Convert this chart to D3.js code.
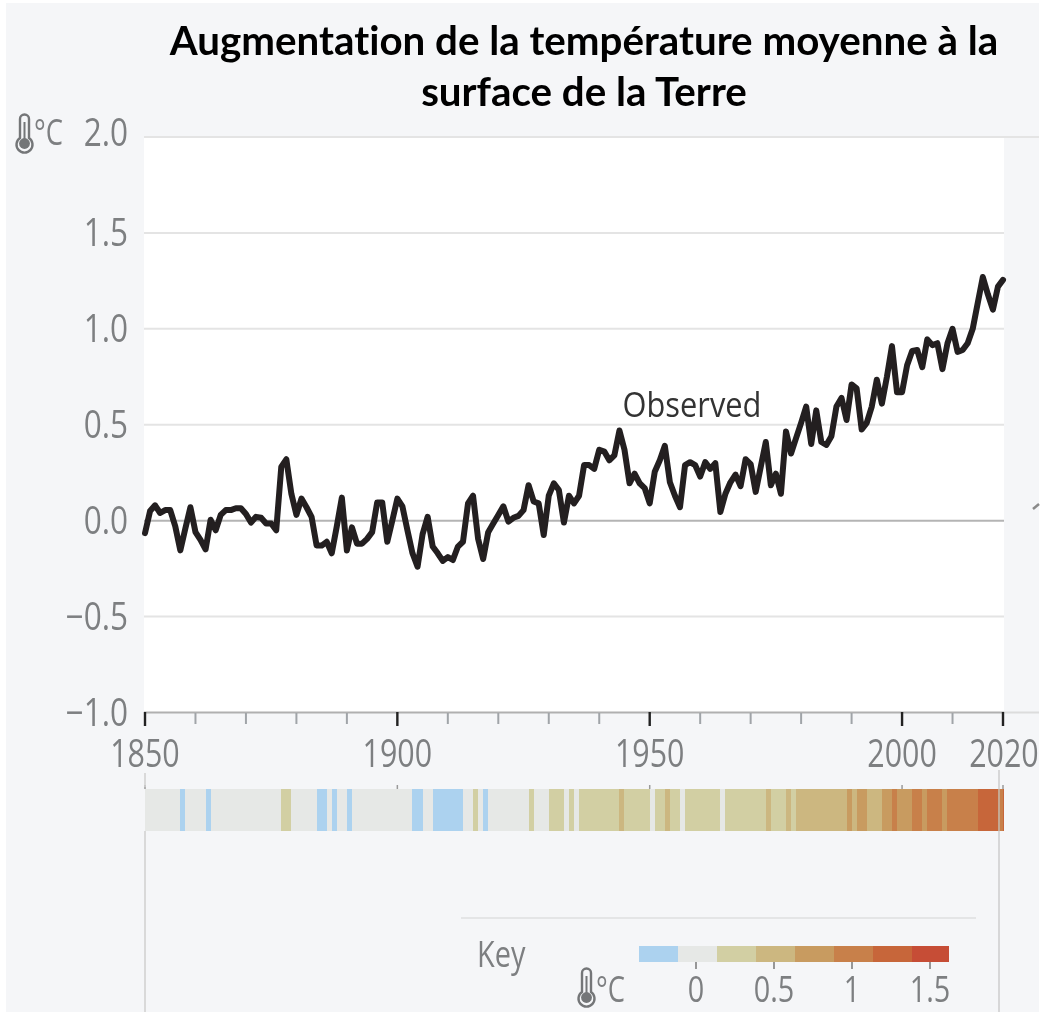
<!DOCTYPE html>
<html><head><meta charset="utf-8">
<script src="https://cdn.jsdelivr.net/npm/d3@7"></script>
<style>html,body{margin:0;padding:0;background:#fff}svg{display:block}
.lab{font-family:"Open Sans",sans-serif;font-weight:400;fill:#7d7f81}
.title{font-family:Lato,sans-serif;font-weight:700;fill:#000;font-size:40.3px;text-anchor:middle;font-variant-ligatures:none}</style>
</head><body><div id="c"></div>
<script>
const titleLines = ["Augmentation de la température moyenne à la","surface de la Terre"];
const startYear = 1850;
const anomalies = [
-0.065,0.05,0.08,0.04,0.055,0.055,-0.03,-0.155,-0.04,0.07,
-0.06,-0.10,-0.15,0.005,-0.05,0.03,0.055,0.055,0.065,0.065,
0.035,-0.01,0.02,0.015,-0.015,-0.015,-0.05,0.28,0.32,0.14,
0.03,0.115,0.07,0.02,-0.13,-0.13,-0.11,-0.17,-0.03,0.12,
-0.155,-0.035,-0.12,-0.12,-0.095,-0.06,0.095,0.095,-0.11,0.0,
0.115,0.075,-0.05,-0.17,-0.24,-0.07,0.02,-0.135,-0.17,-0.21,
-0.19,-0.205,-0.135,-0.11,0.09,0.13,-0.095,-0.20,-0.06,-0.015,
0.03,0.075,-0.005,0.015,0.025,0.055,0.185,0.10,0.09,-0.075,
0.13,0.195,0.16,-0.01,0.13,0.09,0.13,0.29,0.29,0.27,
0.37,0.36,0.315,0.34,0.47,0.37,0.195,0.245,0.195,0.17,
0.09,0.255,0.315,0.39,0.20,0.13,0.07,0.29,0.305,0.29,
0.23,0.305,0.27,0.30,0.045,0.14,0.20,0.24,0.18,0.32,
0.295,0.15,0.28,0.41,0.185,0.245,0.14,0.465,0.35,0.43,
0.51,0.595,0.40,0.575,0.41,0.395,0.44,0.595,0.64,0.525,
0.71,0.69,0.475,0.51,0.595,0.735,0.61,0.75,0.91,0.67,
0.67,0.81,0.885,0.89,0.80,0.945,0.915,0.925,0.79,0.925,
1.0,0.88,0.89,0.925,1.0,1.135,1.27,1.18,1.10,1.22,1.255];
// colour bin (index into keyColors) of each year's stripe, 1850-2020
const stripeBins = [
1,1,1,1,1,1,1,0,1,1, 1,1,0,1,1,1,1,1,1,1,
1,1,1,1,1,1,1,2,2,1, 1,1,1,1,0,0,1,0,1,1,
0,1,1,1,1,1,1,1,1,1, 1,1,1,0,0,1,1,0,0,0,
0,0,0,1,1,2,1,0,1,1, 1,1,1,1,1,1,2,1,1,1,
2,2,2,1,2,1,2,2,2,2, 2,2,2,2,3,2,2,2,2,2,
1,2,2,3,2,2,1,2,2,2, 2,2,2,2,1,2,2,2,2,2,
2,2,2,3,2,2,2,3,2,3, 3,3,3,3,3,3,3,3,3,4,
3,4,4,3,3,3,4,4,5,4, 4,4,5,5,4,5,5,5,4,5,
5,5,5,5,5,6,6,6,6,5,6];
const yTicks = [2,1.5,1,0.5,0,-0.5,-1];
const yTickLabels = ["2.0","1.5","1.0","0.5","0.0","−0.5","−1.0"];
const xMajor = [1850,1900,1950,2000,2020];
const xMinor = [1860,1870,1880,1890,1910,1920,1930,1940,1960,1970,1980,1990,2010];
const keyEdges = [-0.365,-0.115,0.135,0.385,0.635,0.885,1.135,1.385,1.62];
const keyColors = ["#acd2ef","#e6e8e6","#d2cfa3","#ccb780","#c89b60","#c8804a","#c7663a","#c64d36"];
const keyTicks = [0,0.5,1,1.5];
const keyLabels = ["0","0.5","1","1.5"];

const W=1043,H=1012;
const svg=d3.select("#c").append("svg").attr("width",W).attr("height",H);
const x=d3.scaleLinear().domain([1850,2020]).range([145,1003]);
const y=d3.scaleLinear().domain([-1,2]).range([712.5,137]);
const kx=d3.scaleLinear().domain([0,1.5]).range([696,930]);

svg.append("rect").attr("x",6).attr("y",3).attr("width",1033).attr("height",1009).attr("fill","#f5f6f8");
const g=svg.append("g").style("filter","blur(0.6px)");
g.append("rect").attr("x",144).attr("y",y(2)).attr("width",860).attr("height",y(-1)-y(2)).attr("fill","#fff");

// gridlines
g.append("g").selectAll("line").data(yTicks.filter(d=>d!==0&&d!==-1)).join("line")
 .attr("x1",144).attr("x2",d=>d===2?1039:1004).attr("y1",d=>y(d)).attr("y2",d=>y(d))
 .attr("stroke","#e4e4e4").attr("stroke-width",2);
g.append("line").attr("x1",144).attr("x2",1004).attr("y1",y(0)).attr("y2",y(0)).attr("stroke","#b4b4b4").attr("stroke-width",2);
g.append("line").attr("x1",144).attr("x2",1004).attr("y1",y(-1)).attr("y2",y(-1)).attr("stroke","#b0b0b0").attr("stroke-width",2);
g.append("line").attr("x1",1004).attr("x2",1039).attr("y1",y(-1)).attr("y2",y(-1)).attr("stroke","#dcdcdc").attr("stroke-width",2);

// condense text to a target ratio of its natural width
function cond(sel,f){sel.each(function(){const t=d3.select(this);t.attr("textLength",this.getComputedTextLength()*f).attr("lengthAdjust","spacingAndGlyphs");});return sel;}

// y labels
const yAxis=g.append("g").attr("class","lab");
yAxis.selectAll("text").data(yTicks).join("text")
 .attr("x",128).attr("y",d=>d===2?y(d)+9:y(d)+13).attr("text-anchor","end").style("font-size","38px")
 .text((d,i)=>yTickLabels[i]).call(cond,0.83);

// x ticks & labels
g.append("g").selectAll("line").data(xMinor).join("line")
 .attr("x1",d=>x(d)).attr("x2",d=>x(d)).attr("y1",713).attr("y2",724).attr("stroke","#a0a4a8").attr("stroke-width",2);
g.append("g").selectAll("line").data(xMajor).join("line")
 .attr("x1",d=>x(d)).attr("x2",d=>x(d)).attr("y1",712).attr("y2",726).attr("stroke","#222").attr("stroke-width",2.4);
g.append("g").attr("class","lab").selectAll("text").data(xMajor).join("text")
 .attr("x",d=>d===2020?x(d)+1:x(d)).attr("y",767).attr("text-anchor","middle").style("font-size","38px")
 .text(d=>d).call(cond,0.8);

// temperature line
const line=d3.line().x((d,i)=>x(startYear+i)).y(d=>y(d));
g.append("path").attr("d",line(anomalies)).attr("fill","none").attr("stroke","#231f20").attr("stroke-width",6).attr("stroke-linejoin","round").attr("stroke-linecap","round");
g.append("text").attr("x",692).attr("y",417).attr("text-anchor","middle").style("font-family",'"Open Sans",sans-serif').style("font-size","35px").attr("fill","#333").text("Observed").call(cond,0.88);

// stripe bar
svg.append("clipPath").attr("id","bar").append("rect").attr("x",145).attr("y",789).attr("width",859).attr("height",42);
g.append("g").attr("clip-path","url(#bar)").attr("shape-rendering","crispEdges").selectAll("rect").data(stripeBins).join("rect")
 .attr("x",(d,i)=>x(startYear+i)).attr("y",789).attr("width",(d,i)=>x(startYear+i+1)-x(startYear+i)+0.6).attr("height",42)
 .attr("fill",d=>keyColors[d]);
g.append("g").selectAll("line").data(xMajor).join("line")
 .attr("x1",d=>x(d)).attr("x2",d=>x(d)).attr("y1",785).attr("y2",789).attr("stroke","#9a9a9a").attr("stroke-width",1.5);
// frame lines below bar
g.append("line").attr("x1",145).attr("x2",145).attr("y1",831).attr("y2",1012).attr("stroke","#cfcfcf").attr("stroke-width",1.5);
g.append("line").attr("x1",145).attr("x2",145).attr("y1",773).attr("y2",787).attr("stroke","#cfcfcf").attr("stroke-width",1.5);
g.append("line").attr("x1",999).attr("x2",999).attr("y1",770).attr("y2",1012).attr("stroke","#c4c4c4").attr("stroke-opacity",0.8).attr("stroke-width",1.5);
g.append("line").attr("x1",461).attr("x2",976).attr("y1",918).attr("y2",918).attr("stroke","#e4e5e6").attr("stroke-width",2);
// fragment at right edge
g.append("line").attr("x1",1033).attr("y1",509).attr("x2",1039).attr("y2",504).attr("stroke","#8a8a8a").attr("stroke-width",2.5);

// key
g.append("g").attr("shape-rendering","crispEdges").selectAll("rect").data(keyColors).join("rect")
 .attr("x",(d,i)=>kx(keyEdges[i])).attr("y",946).attr("width",(d,i)=>kx(keyEdges[i+1])-kx(keyEdges[i])).attr("height",16).attr("fill",d=>d);
g.append("g").selectAll("line").data(keyTicks).join("line")
 .attr("x1",d=>kx(d)).attr("x2",d=>kx(d)).attr("y1",962).attr("y2",969).attr("stroke","#777").attr("stroke-width",1.5);
g.append("g").attr("class","lab").selectAll("text").data(keyTicks).join("text")
 .attr("x",d=>kx(d)).attr("y",1001.5).attr("text-anchor","middle").style("font-size","36px").text((d,i)=>keyLabels[i]).call(cond,0.8);
g.append("text").attr("class","lab").attr("x",477).attr("y",967).style("font-size","37px").text("Key").call(cond,0.78);

// thermometers
function thermo(px,py,label,lx,ly){
 const t=g.append("g").attr("transform",`translate(${px},${py})`);
 t.append("path").attr("d","M4,24 V5 a4.5,4.5 0 0 1 9,0 V24 a8,8 0 1 1 -9,0 Z").attr("fill","none").attr("stroke","#747678").attr("stroke-width",2.4);
 t.append("circle").attr("cx",8.5).attr("cy",29.5).attr("r",5.4).attr("fill","#747678");
 t.append("rect").attr("x",7.5).attr("y",8).attr("width",2).attr("height",18).attr("fill","#747678");
 g.append("text").attr("class","lab").attr("x",lx).attr("y",ly).style("font-size","36px").text(label).call(cond,0.76);
}
thermo(16,114,"°C",34,145);
thermo(578,968,"°C",596,1001.5);

// title
svg.selectAll("text.title").data(titleLines).join("text").attr("class","title")
 .attr("x",584).attr("y",(d,i)=>55+i*51).text(d=>d);
</script></body></html>
